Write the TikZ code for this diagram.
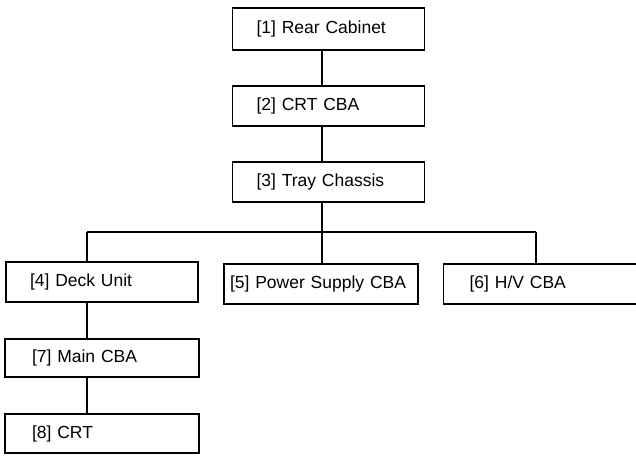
\documentclass[tikz,border=0pt]{standalone}
\usepackage{fontspec}
\setsansfont{Liberation Sans}

\begin{document}
\begin{tikzpicture}[x=1pt,y=-1pt,font=\sffamily\fontsize{17.5}{20}\selectfont,line width=1.2pt,
  part/.style={draw, minimum height=40pt, inner xsep=24pt, text width=144pt, align=left}]
  \useasboundingbox (0,0) rectangle (636,456);
  \node[part, minimum height=42pt] (cabinet) at (328.5,29) {[1] Rear Cabinet};
  \node[part] (crtcba) at (328.5,106) {[2] CRT CBA};
  \node[part] (tray) at (328.5,182) {[3] Tray Chassis};
  \node[part] (deck) at (102,282) {[4] Deck Unit};
  \node[part, inner xsep=6pt, text width=182pt] (power) at (321,284) {[5] Power Supply CBA};
  \node[part, anchor=west, inner xsep=26pt, text width=170pt] (hv) at (443,284) {[6] H/V CBA};
  \node[part, minimum height=38pt, inner xsep=27pt, text width=140pt] (main) at (102,358) {[7] Main CBA};
  \node[part, minimum height=39pt, inner xsep=27pt, text width=140pt] (crt) at (102,433.5) {[8] CRT};
  % branch points of the tree
  \coordinate (bus) at (322,232);
  \coordinate (busL) at (87,232);
  \coordinate (busR) at (536,232);
  \draw (cabinet.south -| bus) -- (crtcba.north -| bus);
  \draw (crtcba.south -| bus) -- (tray.north -| bus);
  \draw (tray.south -| bus) -- (power.north -| bus);
  \draw (busL) -- (busR);
  \draw (busL) -- (deck.north -| busL);
  \draw (busR) -- (hv.north -| busR);
  \draw (deck.south -| busL) -- (main.north -| busL);
  \draw (main.south -| busL) -- (crt.north -| busL);
\end{tikzpicture}
\end{document}
